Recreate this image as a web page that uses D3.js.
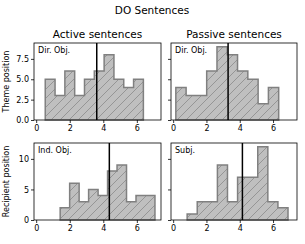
<!DOCTYPE html>
<html>
<head>
<meta charset="utf-8">
<script src="https://cdn.jsdelivr.net/npm/d3@7"></script>
<style>
  body { margin: 0; background: #fff; }
  svg { display: block; }
</style>
</head>
<body>
<svg id="chart" width="305" height="244" font-family="DejaVu Sans, sans-serif"></svg>
<script>
// panel labels and column / row titles
const columnTitles = ['Active sentences', 'Passive sentences'];
const rowTitles = ['Theme position', 'Recipient position'];
const panelLabels = ['Dir. Obj.', 'Dir. Obj.', 'Ind. Obj.', 'Subj.'];

// histogram bins: first edge, last edge, counts per bin
const binStart = [0.54, 0.16, 1.43, 0.84];
const binEnd = [6.39, 6.34, 7.08, 6.90];
const counts = [
  [5, 3, 6, 3, 5, 6, 8, 5, 4, 5],
  [4, 3, 3, 6, 9, 8, 6, 5, 2, 4],
  [2, 6, 3, 5, 4, 8, 9, 3, 4, 4],
  [1, 3, 3, 9, 3, 7, 7, 12, 3, 2]
];
const means = [3.61, 3.30, 4.36, 4.16];

const xTicks = [0, 2, 4, 6];
const yTicksTop = [0, 2.5, 5, 7.5];
const yTicksBottom = [0, 5, 10];

const svg = d3.select('#chart');

const cols = [{ left: 34, right: 161 }, { left: 171, right: 297 }];
const rows = [{ top: 43, bottom: 120, ymax: 9.45, ticks: yTicksTop, fmt: d3.format('.1f') },
              { top: 143, bottom: 220, ymax: 12.6, ticks: yTicksBottom, fmt: d3.format('d') }];

// hatch pattern
const pat = svg.append('defs').append('pattern')
  .attr('id', 'hatch')
  .attr('patternUnits', 'userSpaceOnUse')
  .attr('width', 9).attr('height', 9);
pat.append('rect').attr('width', 9).attr('height', 9).attr('fill', '#bfbfbf');
pat.append('path')
  .attr('d', 'M0,9 L9,0 M-2,2 L2,-2 M7,11 L11,7')
  .attr('stroke', '#8a8a8a').attr('stroke-width', 0.8);

svg.append('text')
  .attr('x', 152).attr('y', 14)
  .attr('text-anchor', 'middle')
  .attr('font-size', 10.5)
  .text('DO Sentences');

columnTitles.forEach((t, i) => {
  svg.append('text')
    .attr('x', (cols[i].left + cols[i].right) / 2).attr('y', 38)
    .attr('text-anchor', 'middle')
    .attr('font-size', 10.5)
    .text(t);
});

rowTitles.forEach((t, i) => {
  const cy = (rows[i].top + rows[i].bottom) / 2;
  svg.append('text')
    .attr('transform', `translate(9,${cy}) rotate(-90)`)
    .attr('text-anchor', 'middle')
    .attr('font-size', 8)
    .text(t);
});

for (let r = 0; r < 2; r++) {
  for (let c = 0; c < 2; c++) {
    const k = r * 2 + c;
    const row = rows[r], col = cols[c];
    const x = d3.scaleLinear().domain([-0.13, 7.44]).range([col.left, col.right]);
    const y = d3.scaleLinear().domain([0, row.ymax]).range([row.bottom, row.top]);
    const g = svg.append('g');

    // stepfilled histogram outline
    const n = counts[k].length;
    const w = (binEnd[k] - binStart[k]) / n;
    const pts = [[x(binStart[k]), y(0)]];
    counts[k].forEach((v, i) => {
      pts.push([x(binStart[k] + i * w), y(v)]);
      pts.push([x(binStart[k] + (i + 1) * w), y(v)]);
    });
    pts.push([x(binEnd[k]), y(0)]);

    g.append('path')
      .attr('d', d3.line()(pts) + 'Z')
      .attr('fill', 'url(#hatch)')
      .attr('stroke', '#808080')
      .attr('stroke-width', 1.5);

    g.append('line')
      .attr('x1', x(means[k])).attr('x2', x(means[k]))
      .attr('y1', row.top).attr('y2', row.bottom)
      .attr('stroke', '#000').attr('stroke-width', 1.5);

    const xa = g.append('g')
      .attr('transform', `translate(0,${row.bottom})`)
      .call(d3.axisBottom(x).tickValues(xTicks).tickSize(3).tickPadding(2).tickFormat(d3.format('d')));
    const ya = g.append('g')
      .attr('transform', `translate(${col.left},0)`)
      .call(d3.axisLeft(y).tickValues(row.ticks).tickSize(3).tickPadding(2)
        .tickFormat(c === 0 ? row.fmt : () => ''));
    [xa, ya].forEach(a => {
      a.select('.domain').remove();
      a.attr('font-size', 8).attr('font-family', 'DejaVu Sans, sans-serif');
      a.selectAll('text').attr('fill', '#000');
      a.selectAll('line').attr('stroke', '#000').attr('stroke-width', 0.8);
    });

    g.append('rect')
      .attr('x', col.left).attr('y', row.top)
      .attr('width', col.right - col.left).attr('height', row.bottom - row.top)
      .attr('fill', 'none').attr('stroke', '#000').attr('stroke-width', 0.8);

    g.append('text')
      .attr('x', col.left + 4).attr('y', row.top + 10)
      .attr('font-size', 8)
      .text(panelLabels[k]);
  }
}
</script>
</body>
</html>
